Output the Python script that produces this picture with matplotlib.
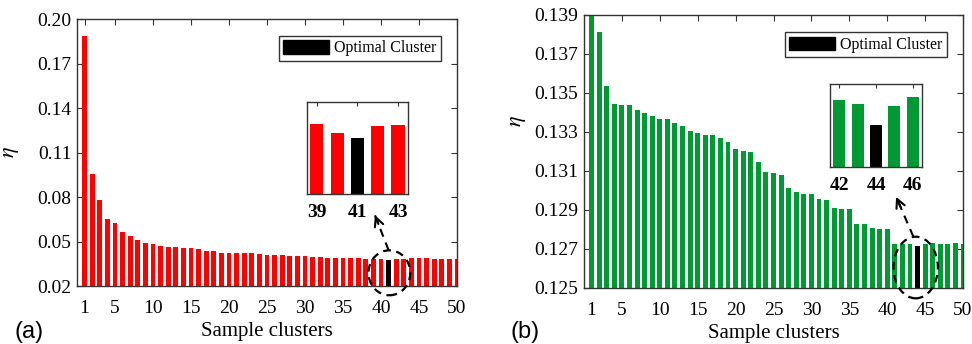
import numpy as np
import matplotlib
matplotlib.use('Agg')
import matplotlib.pyplot as plt
from matplotlib.patches import Ellipse, Patch

plt.rcParams['font.family'] = ['Liberation Serif', 'DejaVu Serif']
plt.rcParams['mathtext.fontset'] = 'stix'

clusters = np.arange(1, 51)

# eta per number of sample clusters, first dataset (optimal at 41)
eta_a = [0.1887, 0.0955, 0.0780, 0.0650, 0.0625, 0.0564, 0.0537, 0.0510, 0.0490, 0.0483,
         0.0470, 0.0463, 0.0463, 0.0456, 0.0456, 0.0448, 0.0436, 0.0436, 0.0422, 0.0422,
         0.0422, 0.0422, 0.0422, 0.0414, 0.0407, 0.0407, 0.0407, 0.0400, 0.0400, 0.0400,
         0.0394, 0.0394, 0.0387, 0.0387, 0.0387, 0.0387, 0.0387, 0.0381, 0.03800, 0.03790,
         0.03785, 0.03798, 0.03799, 0.0386, 0.0386, 0.0386, 0.0382, 0.0382, 0.0382, 0.0382]
best_a = 41

# eta per number of sample clusters, second dataset (optimal at 44)
eta_b = [0.1392, 0.13813, 0.13536, 0.13444, 0.13438, 0.13438, 0.13413, 0.13397, 0.13382, 0.13367,
         0.13367, 0.13346, 0.13331, 0.13305, 0.13295, 0.13285, 0.13285, 0.13269, 0.13249, 0.13213,
         0.13203, 0.13197, 0.13146, 0.13095, 0.13090, 0.13080, 0.13013, 0.12992, 0.12982, 0.12982,
         0.12956, 0.12951, 0.12910, 0.12905, 0.12905, 0.12828, 0.12828, 0.12808, 0.12803, 0.12803,
         0.12726, 0.12727, 0.12725, 0.12715, 0.12724, 0.127285, 0.12726, 0.12726, 0.12731, 0.12726]
best_b = 44

xticks = [1, 5, 10, 15, 20, 25, 30, 35, 40, 45, 50]
yticks_a = [0.02, 0.05, 0.08, 0.11, 0.14, 0.17, 0.20]
yticks_b = [0.125, 0.127, 0.129, 0.131, 0.133, 0.135, 0.137, 0.139]

RED = '#ff0000'
GREEN = '#009933'
AXC = '#333333'


def style_axes(ax, tick_size=14, pad=4):
    for s in ax.spines.values():
        s.set_color(AXC)
        s.set_linewidth(1.0)
    ax.tick_params(direction='in', top=True, right=True, length=4, width=0.8,
                   colors=AXC, labelcolor='black', labelsize=tick_size, pad=pad)


def bar_panel(ax, values, best, color, ylim, yticks, ylabel_y):
    vals = np.array(values)
    colors = [('black' if c == best else color) for c in clusters]
    ax.bar(clusters, vals, width=0.65, color=colors, zorder=2)
    ax.set_xlim(0, 50)
    ax.set_ylim(*ylim)
    ax.set_xticks(xticks)
    ax.set_yticks(yticks)
    ax.set_yticklabels(['%g' % t if len(str(t)) > 4 else '%.2f' % t for t in yticks])
    style_axes(ax)
    ax.tick_params(axis='x', pad=10)
    ax.set_xlabel('Sample clusters', fontsize=15, labelpad=4)
    ax.set_ylabel(r'$\eta$', fontsize=16)
    ax.yaxis.set_label_coords(-0.148, ylabel_y)
    ax.legend(handles=[Patch(facecolor='black', edgecolor='black', label='Optimal Cluster')],
              loc='upper right', bbox_to_anchor=(0.958, 0.937), borderaxespad=0,
              fancybox=False, edgecolor=AXC, framealpha=1, fontsize=11.5,
              handlelength=2.9, handleheight=0.9, handletextpad=0.3,
              borderpad=0.28)


def inset_panel(fig, rect, values, best, color, lo, hi, ylim):
    ins = fig.add_axes(rect)
    idx = np.arange(lo, hi + 1)
    vals = np.array(values)[idx - 1]
    colors = [('black' if c == best else color) for c in idx]
    ins.bar(idx, vals, width=0.65, color=colors)
    ins.set_xlim(lo - 0.5, hi + 0.5)
    ins.set_ylim(*ylim)
    ins.set_xticks(idx[::2])
    ins.set_yticks([])
    style_axes(ins, tick_size=14, pad=7)
    ins.tick_params(axis='x', bottom=False, top=True, length=3)
    for lab in ins.get_xticklabels():
        lab.set_fontweight('bold')
    return ins


def zoom_marker(ax, center, size, start, tip):
    ax.add_patch(Ellipse(center, size[0], size[1], fill=False, edgecolor='black',
                         linestyle=(0, (3.5, 2.5)), linewidth=1.6, clip_on=False, zorder=5))
    ax.plot([start[0], tip[0]], [start[1], tip[1]], color='black', linewidth=1.5,
            linestyle=(0, (4, 3)), clip_on=False, zorder=5)
    dx = (tip[0] - start[0]) * 0.25
    dy = (tip[1] - start[1]) * 0.25
    ax.annotate('', xy=tip, xytext=(tip[0] - dx, tip[1] - dy),
                arrowprops=dict(arrowstyle='->', color='black', lw=1.5,
                                mutation_scale=16, shrinkA=0, shrinkB=0),
                annotation_clip=False, zorder=5)


fig = plt.figure(figsize=(9.72, 3.44), dpi=100)

ax_a = fig.add_axes([0.0792, 0.1686, 0.391, 0.776])
bar_panel(ax_a, eta_a, best_a, RED, (0.02, 0.20), yticks_a, 0.5)
inset_panel(fig, [0.3155, 0.4352, 0.1045, 0.2674], eta_a, best_a, RED, 39, 43,
            (0.03725, 0.03823))
zoom_marker(ax_a, (41.1, 0.0289), (5.5, 0.0303), (41.0, 0.0441), (39.2, 0.0677))

ax_b = fig.add_axes([0.6008, 0.1628, 0.390, 0.7936])
bar_panel(ax_b, eta_b, best_b, GREEN, (0.125, 0.139), yticks_b, 0.61)
inset_panel(fig, [0.8539, 0.5145, 0.0947, 0.2413], eta_b, best_b, GREEN, 42, 46,
            (0.12695, 0.127345))
zoom_marker(ax_b, (43.75, 0.12605), (5.85, 0.00316), (43.45, 0.12763), (41.17, 0.12968))

fig.text(0.0303, 0.035, '(a)', fontsize=17, family='Liberation Sans', ha='center', va='center')
fig.text(0.540, 0.035, '(b)', fontsize=17, family='Liberation Sans', ha='center', va='center')

fig.savefig('out.png', dpi=100)
